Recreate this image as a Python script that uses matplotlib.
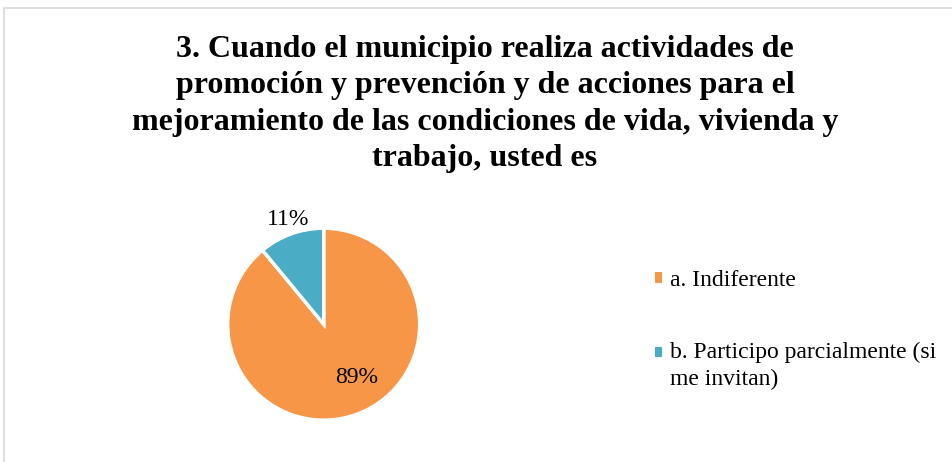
import matplotlib
matplotlib.use("Agg")
import matplotlib.pyplot as plt
from matplotlib.patches import Patch, Rectangle
from matplotlib.legend_handler import HandlerPatch

title = ("3. Cuando el municipio realiza actividades de\n"
         "promoción y prevención y de acciones para el\n"
         "mejoramiento de las condiciones de vida, vivienda y\n"
         "trabajo, usted es")
categories = ["a. Indiferente", "b. Participo parcialmente (si\nme invitan)"]
values = [89, 11]
colors = ["#F79646", "#4BACC6"]

W, H = 952, 462
fig = plt.figure(figsize=(W / 100, H / 100), dpi=100)
fig.patch.set_facecolor("white")
plt.rcParams["font.family"] = ["Liberation Serif", "DejaVu Serif"]

# border
fig.add_artist(Rectangle((3.5 / W, -0.1), 1.2, (462 - 7.5) / H + 0.1, transform=fig.transFigure,
                         fill=False, edgecolor="#D9D9D9", linewidth=1.2))

fig.text(485 / W, 1 - 35 / H, title, ha="center", va="top", fontsize=23,
         fontweight="bold", linespacing=1.33, color="black")

cx, cy, r = 323.7, 324.2, 96
ax = fig.add_axes([(cx - r) / W, (H - cy - r) / H, 2 * r / W, 2 * r / H])
wedges, _ = ax.pie(values, colors=colors, startangle=90, counterclock=False,
                   radius=1, wedgeprops=dict(edgecolor="white", linewidth=2.5))
ax.set_xlim(-1, 1)
ax.set_ylim(-1, 1)
ax.set_aspect("auto")
ax.axis("off")

ax.text(0.344, -0.552, f"{values[0]}%", ha="center", va="center", fontsize=17)
ax.text(-0.375, 1.095, f"{values[1]}%", ha="center", va="center", fontsize=17)


def shifted(dy):
    def make(legend, orig_handle, xdescent, ydescent, width, height, fontsize):
        return Rectangle((-xdescent, -ydescent + dy), width, height)
    return HandlerPatch(patch_func=make)


handles = [Patch(facecolor=c, edgecolor="none") for c in colors]
leg = fig.legend(handles, categories, loc="upper left",
                 bbox_to_anchor=(655 / W, 1 - 270 / H), frameon=False,
                 fontsize=17, handlelength=0.3, handleheight=0.3, handletextpad=0.35,
                 labelspacing=2.15, borderpad=0, borderaxespad=0,
                 handler_map={handles[1]: shifted(9.7)})
for t in leg.get_texts():
    t.set_linespacing(1.35)

fig.savefig("out.png", dpi=100, facecolor="white")
